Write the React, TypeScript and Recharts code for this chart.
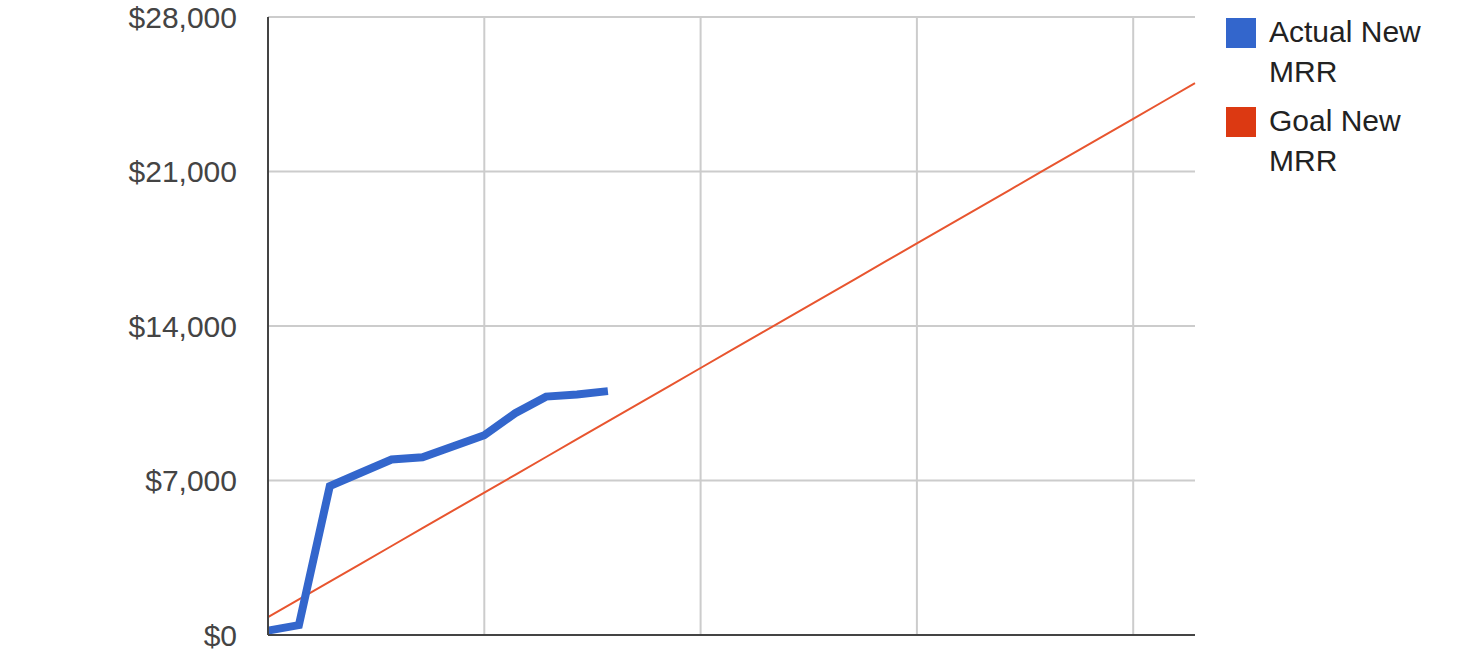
import { CartesianGrid, Legend, Line, LineChart, XAxis, YAxis } from "recharts";

// day of month (0-based) for each point
const days = [
  0, 1, 2, 3, 4, 5, 6, 7, 8, 9, 10, 11, 12, 13, 14, 15, 16, 17, 18, 19, 20,
  21, 22, 23, 24, 25, 26, 27, 28, 29, 30,
];
const actualNewMrr = [
  200, 450, 6750, 7350, 7950, 8050, 8550, 9050, 10050, 10800, 10900, 11050,
];
const goalNewMrr = [
  806, 1613, 2419, 3226, 4032, 4839, 5645, 6452, 7258, 8065, 8871, 9677,
  10484, 11290, 12097, 12903, 13710, 14516, 15323, 16129, 16935, 17742, 18548,
  19355, 20161, 20968, 21774, 22581, 23387, 24194, 25000,
];
const xTicks = [0, 7, 14, 21, 28];
const yTicks = [0, 7000, 14000, 21000, 28000];
const seriesNames = ["Actual New MRR", "Goal New MRR"];

const BLUE = "#3366cc";
const RED = "#dc3912";
const FONT = "'Liberation Sans', Arial, sans-serif";

const data = days.map((d, i) => ({
  day: d,
  actual: actualNewMrr[i],
  goal: goalNewMrr[i],
}));

function fmt(v: number) {
  return "$" + v.toLocaleString("en-US");
}

function MrrLegend() {
  const colors = [BLUE, RED];
  return (
    <div style={{ fontFamily: FONT, fontSize: 30, color: "#222" }}>
      {seriesNames.map((name, i) => (
        <div
          key={name}
          style={{ display: "flex", alignItems: "flex-start", marginBottom: 14 }}
        >
          <div
            style={{
              width: 30,
              height: 30,
              background: colors[i],
              marginRight: 13,
              marginTop: 1,
              flex: "none",
            }}
          />
          <div style={{ width: 170, lineHeight: "40px", marginTop: -5 }}>
            {name}
          </div>
        </div>
      ))}
    </div>
  );
}

export default function App() {
  return (
    <div style={{ position: "absolute", left: 0, top: 0 }}>
      <LineChart
        width={1460}
        height={657}
        data={data}
        margin={{ top: 17, right: 265, bottom: 0, left: 0 }}
      >
        <CartesianGrid stroke="#cccccc" strokeWidth={2} syncWithTicks />
        <XAxis
          dataKey="day"
          type="number"
          domain={[0, 30]}
          ticks={xTicks}
          interval={0}
          tick={() => <g />}
          tickLine={false}
          height={22}
          axisLine={{ stroke: "#444", strokeWidth: 2 }}
        />
        <YAxis
          type="number"
          domain={[0, 28000]}
          ticks={yTicks}
          interval={0}
          tickFormatter={fmt}
          width={268}
          tickLine={false}
          tickSize={0}
          tickMargin={31}
          axisLine={{ stroke: "#444", strokeWidth: 2 }}
          tick={{ fill: "#444", fontSize: 30, fontFamily: FONT }}
        />
        <Legend
          layout="horizontal"
          verticalAlign="middle"
          align="center"
          wrapperStyle={{ left: 1226, top: 17, width: 230, right: "auto" }}
          content={() => <MrrLegend />}
        />
        <Line
          dataKey="goal"
          name={seriesNames[1]}
          stroke="#e8552f"
          strokeWidth={2}
          dot={false}
          isAnimationActive={false}
        />
        <Line
          dataKey="actual"
          name={seriesNames[0]}
          stroke={BLUE}
          strokeWidth={8}
          dot={false}
          isAnimationActive={false}
        />
      </LineChart>
    </div>
  );
}
